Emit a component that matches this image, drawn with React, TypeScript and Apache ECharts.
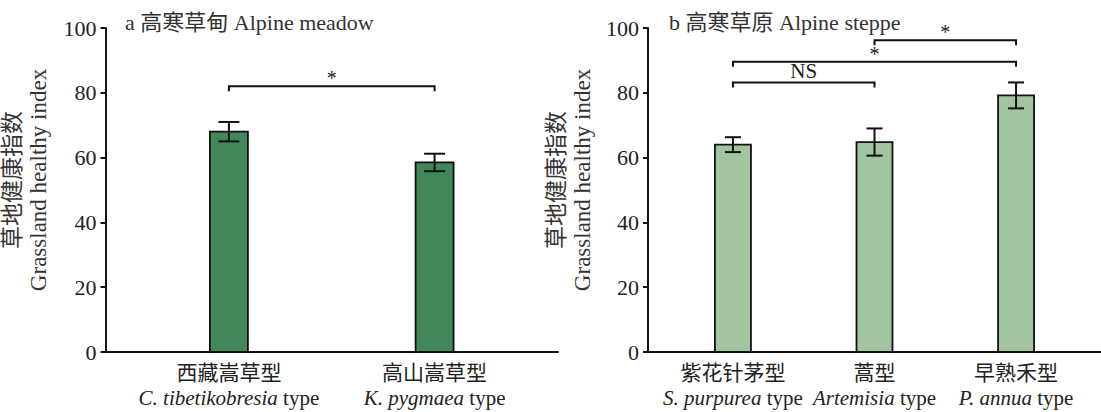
import React, { useEffect, useRef } from "react";
import * as echarts from "echarts";

// ---- data ----
const meadowTitle = "a 高寒草甸 Alpine meadow";
const meadowCats = ["西藏嵩草型", "高山嵩草型"];
const meadowLatin = ["C. tibetikobresia", "K. pygmaea"];
const meadowMean = [68.0, 58.5];
const meadowErr = [3.0, 2.7];
const meadowSig: [number, number, number, string][] = [[0, 1, 82, "*"]];

const steppeTitle = "b 高寒草原 Alpine steppe";
const steppeCats = ["紫花针茅型", "蒿型", "早熟禾型"];
const steppeLatin = ["S. purpurea", "Artemisia", "P. annua"];
const steppeMean = [64.0, 64.8, 79.2];
const steppeErr = [2.3, 4.2, 4.0];
const steppeSig: [number, number, number, string][] = [
  [0, 1, 83.2, "NS"],
  [0, 2, 89.6, "*"],
  [1, 2, 96.2, "*"],
];

const yTicks = [0, 20, 40, 60, 80, 100];
const yNameCn = "草地健康指数";
const yNameEn = "Grassland healthy index";
const typeWord = "type";

const FONT = "'Liberation Serif', 'Times New Roman', 'Noto Sans CJK SC', serif";

export default function App() {
  const ref = useRef<HTMLDivElement>(null);
  useEffect(() => {
    if (!ref.current) return;
    const chart = echarts.init(ref.current, undefined, { renderer: "svg" });

    const yMin = yTicks[0];
    const yMax = yTicks[yTicks.length - 1];
    const yInterval = yTicks[1] - yTicks[0];

    const makeY = (gridIndex: number, gap: number) => ({
      type: "value",
      gridIndex,
      min: yMin,
      max: yMax,
      interval: yInterval,
      name: `{cn|${yNameCn}}\n{en|${yNameEn}}`,
      nameLocation: "middle",
      nameRotate: 90,
      nameGap: gap,
      nameTextStyle: {
        padding: [0, 0, 0, 20],
        rich: {
          cn: { fontFamily: FONT, fontSize: 23, color: "#333", lineHeight: 26 },
          en: { fontFamily: FONT, fontSize: 23, color: "#333", lineHeight: 26 },
        },
      },
      axisLine: { show: true, onZero: false, lineStyle: { color: "#111", width: 2 } },
      axisTick: { show: true, inside: false, length: 5, lineStyle: { color: "#111", width: 2 } },
      axisLabel: { fontFamily: FONT, fontSize: 22, color: "#222", margin: 9 },
      splitLine: { show: false },
    });

    const makeX = (gridIndex: number, cats: string[], latin: string[]) => ({
      type: "value",
      gridIndex,
      min: -0.6,
      max: cats.length - 1 + 0.6,
      axisLine: { show: true, onZero: false, lineStyle: { color: "#111", width: 2 } },
      axisTick: { show: false },
      splitLine: { show: false },
      axisLabel: {
        customValues: cats.map((_, i) => i),
        margin: 8,
        formatter: (v: number) => {
          const i = Math.round(v);
          return `{cn|${cats[i]}}\n{it|${latin[i]}}{n| ${typeWord}}`;
        },
        rich: {
          cn: { fontFamily: FONT, fontSize: 21, color: "#222", lineHeight: 25 },
          it: { fontFamily: FONT, fontSize: 21, fontStyle: "italic", color: "#222", lineHeight: 25 },
          n: { fontFamily: FONT, fontSize: 21, color: "#222", lineHeight: 25 },
        },
      },
    });

    const barSeries = (idx: number, means: number[], color: string, width: number) => ({
      type: "custom",
      xAxisIndex: idx,
      yAxisIndex: idx,
      clip: false,
      data: means.map((m, i) => [i, m]),
      renderItem: (_p: any, api: any) => {
        const x = api.value(0);
        const top = api.coord([x, api.value(1)]);
        const base = api.coord([x, 0]);
        return {
          type: "rect",
          shape: { x: top[0] - width / 2, y: top[1], width, height: base[1] - top[1] },
          style: { fill: color, stroke: "#111", lineWidth: 1.8 },
        };
      },
      silent: true,
    });

    const errSeries = (idx: number, means: number[], errs: number[], cap: number) => ({
      type: "custom",
      xAxisIndex: idx,
      yAxisIndex: idx,
      clip: false,
      data: means.map((m, i) => [i, m - errs[i], m + errs[i]]),
      renderItem: (_p: any, api: any) => {
        const x = api.value(0);
        const lo = api.coord([x, api.value(1)]);
        const hi = api.coord([x, api.value(2)]);
        const s = { stroke: "#111", lineWidth: 2 };
        return {
          type: "group",
          children: [
            { type: "line", shape: { x1: lo[0], y1: lo[1], x2: hi[0], y2: hi[1] }, style: s },
            { type: "line", shape: { x1: lo[0] - cap / 2, y1: lo[1], x2: lo[0] + cap / 2, y2: lo[1] }, style: s },
            { type: "line", shape: { x1: hi[0] - cap / 2, y1: hi[1], x2: hi[0] + cap / 2, y2: hi[1] }, style: s },
          ],
        };
      },
    });

    const sigSeries = (idx: number, sig: [number, number, number, string][]) => ({
      type: "custom",
      xAxisIndex: idx,
      yAxisIndex: idx,
      clip: false,
      data: sig.map((s) => [s[0], s[1], s[2]]),
      renderItem: (p: any, api: any) => {
        const a = api.coord([api.value(0), api.value(2)]);
        const b = api.coord([api.value(1), api.value(2)]);
        const label = sig[p.dataIndex][3];
        const drop = 5;
        return {
          type: "group",
          children: [
            {
              type: "polyline",
              shape: { points: [[a[0], a[1] + drop], [a[0], a[1]], [b[0], b[1]], [b[0], b[1] + drop]] },
              style: { stroke: "#111", lineWidth: 2, fill: "none" },
            },
            {
              type: "text",
              x: (a[0] + b[0]) / 2,
              y: a[1] + (label === "*" ? 2 : -1),
              style: {
                text: label,
                fontFamily: FONT,
                fontSize: label === "*" ? 20 : 21,
                fill: "#222",
                align: "center",
                verticalAlign: "bottom",
              },
            },
          ],
        };
      },
    });

    const titleStyle = { fontFamily: FONT, fontSize: 22, fontWeight: "normal", color: "#333" };

    chart.setOption({
      animation: false,
      title: [
        { text: meadowTitle, left: 120, top: 6, textStyle: titleStyle },
        { text: steppeTitle, left: 664, top: 6, textStyle: titleStyle },
      ],
      grid: [
        { left: 100, top: 28, width: 458, height: 324 },
        { left: 648, top: 28, width: 458, height: 324 },
      ],
      xAxis: [makeX(0, meadowCats, meadowLatin), makeX(1, steppeCats, steppeLatin)],
      yAxis: [makeY(0, 54), makeY(1, 53)],
      series: [
        barSeries(0, meadowMean, "#41875A", 38),
        errSeries(0, meadowMean, meadowErr, 21),
        sigSeries(0, meadowSig),
        barSeries(1, steppeMean, "#A2C4A0", 36),
        errSeries(1, steppeMean, steppeErr, 16),
        sigSeries(1, steppeSig),
      ],
    });
    return () => chart.dispose();
  }, []);
  return <div ref={ref} style={{ position: "absolute", left: 0, top: 0, width: 1101, height: 412 }} />;
}
